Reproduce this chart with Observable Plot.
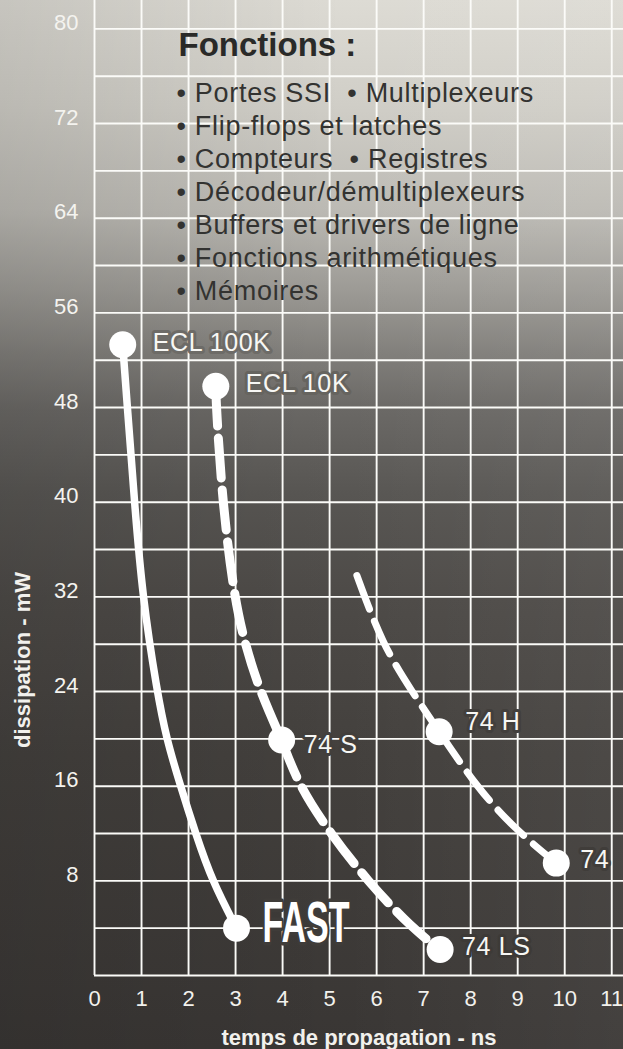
<!DOCTYPE html>
<html><head><meta charset="utf-8">
<script src="https://cdn.jsdelivr.net/npm/d3@7"></script>
<script src="https://cdn.jsdelivr.net/npm/@observablehq/plot@0.6"></script>
<style>
html,body{margin:0;padding:0;}
body{width:623px;height:1049px;overflow:hidden;
background:
 linear-gradient(to right, rgba(0,0,0,0.10), rgba(0,0,0,0) 55%, rgba(255,255,255,0.05)),
 linear-gradient(to bottom, #dddbd4 0%, #d0cec7 10%, #bcbab4 20%, #9b9994 28%, #7f7d79 34%, #6a6865 39%, #585653 47%, #4d4a47 57%, #43403d 72%, #393634 100%);}
#chart svg{display:block;}
.fn-list text{letter-spacing:0.7px;}
.pt-label text{letter-spacing:0.6px;}
</style></head><body><div id="chart"></div>
<script>
// ---- data ----
const xTicks = [0,1,2,3,4,5,6,7,8,9,10,11];
const yTicks = [8,16,24,32,40,48,56,64,72,80];
const yGrid = [0,4,8,12,16,20,24,28,32,36,40,44,48,52,56,60,64,68,72,76,80];

const pointNames = ["ECL 100K","FAST","ECL 10K","74 S","74 LS","74 H","74"];
const pointX = [0.6, 3.02, 2.58, 3.98, 7.35, 7.33, 9.82];
const pointY = [53.3, 4.0, 49.8, 19.9, 2.2, 20.6, 9.5];

// ECL 100K -> FAST (solid)
const fastX = [0.6, 0.7, 0.85, 1.02, 1.33, 1.53, 1.83, 2.15, 2.5, 3.02];
const fastY = [53.3, 48, 40, 32, 24, 20, 16, 12, 8, 4.0];
// ECL 10K -> 74 S (dashed)
const ecl10X = [2.58, 2.59, 2.72, 2.97, 3.2, 3.52, 3.98];
const ecl10Y = [49.8, 48, 40, 32, 28, 24, 19.9];
// 74 S -> 74 LS (dashed)
const lsX = [3.98, 4.35, 5.02, 5.8, 6.75, 7.35];
const lsY = [19.9, 16, 12, 8, 4, 2.2];
// start -> 74 H (dashed)
const hX = [5.58, 6.12, 6.75, 7.33];
const hY = [33.8, 28, 24, 20.6];
// 74 H -> 74 (dashed)
const stdX = [7.33, 8.15, 8.96, 9.82];
const stdY = [20.6, 15.8, 12.3, 9.5];

const functionsTitle = "Fonctions :";
const functionsList = [
  "• Portes SSI  • Multiplexeurs",
  "• Flip-flops et latches",
  "• Compteurs  • Registres",
  "• Décodeur/démultiplexeurs",
  "• Buffers et drivers de ligne",
  "• Fonctions arithmétiques",
  "• Mémoires"
];
const xLabel = "temps de propagation - ns";
const yLabel = "dissipation - mW";

// ---- tables ----
const zip = (xs, ys, seg) => xs.map((x, i) => ({x, y: ys[i], seg}));
const points = pointNames.map((name, i) => ({name, x: pointX[i], y: pointY[i]}));
const fastRows = zip(fastX, fastY, "fast");
const lsRows = [...zip(ecl10X, ecl10Y, "a"), ...zip(lsX, lsY, "b")];
const stdRows = [...zip(hX, hY, "a"), ...zip(stdX, stdY, "b")];

// label layout (offsets in px from each dot)
const labelLayout = {
  "ECL 100K": {dx: 30, dy: -2, halo: "#6d6b67"},
  "ECL 10K": {dx: 30, dy: -2, halo: "#66645f"},
  "74 S": {dx: 22, dy: 5, halo: "#423f3c"},
  "74 H": {dx: 26, dy: -10, halo: "#423f3c"},
  "74": {dx: 24, dy: -3, halo: "#403d3a"},
  "74 LS": {dx: 22, dy: -2, halo: "#3d3a37"}
};

const font = "'Liberation Sans', Arial, Helvetica, sans-serif";

const labelMarks = Object.keys(labelLayout).map(name => {
  const L = labelLayout[name];
  return Plot.text(points.filter(p => p.name === name), {
    x: "x", y: "y", text: "name", dx: L.dx, dy: L.dy,
    textAnchor: "start", lineAnchor: "middle", fontSize: 25,
    fill: "#f7f7f4", stroke: L.halo, strokeWidth: 6, className: "pt-label"
  });
});

const plot = Plot.plot({
  width: 623, height: 1049,
  marginLeft: 94, marginRight: 0, marginTop: 0, marginBottom: 74,
  x: {domain: [0, 11.25]},
  y: {domain: [0, 82.4]},
  style: {background: "transparent", fontFamily: font, overflow: "visible"},
  marks: [
    Plot.ruleX(xTicks, {stroke: "#fbfbf8", strokeWidth: 1.9}),
    Plot.ruleY(yGrid, {stroke: "#fbfbf8", strokeWidth: 1.9}),
    Plot.axisX(xTicks, {tickSize: 0, tickPadding: 15, fontSize: 22, fill: "#f2f1ed", label: null}),
    Plot.axisY(yTicks, {tickSize: 0, tickPadding: 16, dy: -6, fontSize: 22, fill: "#f4f3ef", label: null}),
    Plot.text([xLabel], {text: d => d, frameAnchor: "bottom", dy: 62, textAnchor: "middle", lineAnchor: "middle",
      fontSize: 22, fontWeight: "bold", fill: "#f2f1ed"}),
    Plot.text([yLabel], {text: d => d, frameAnchor: "left", dx: -72, dy: 172, rotate: -90,
      textAnchor: "middle", lineAnchor: "middle", fontSize: 22, fontWeight: "bold", fill: "#f2f1ed"}),
    Plot.text([functionsTitle], {text: d => d, frameAnchor: "top-left", dx: 84, dy: 45,
      textAnchor: "start", lineAnchor: "middle", fontSize: 33, fontWeight: "bold", fill: "#2a2a28"}),
    Plot.text([functionsList.join("\n")], {text: d => d, frameAnchor: "top-left", dx: 82, dy: 78,
      textAnchor: "start", lineAnchor: "top", fontSize: 27, lineHeight: 33 / 27, fill: "#333331",
      className: "fn-list"}),
    Plot.line(fastRows, {x: "x", y: "y", z: "seg", curve: "basis", stroke: "white", strokeWidth: 7.5}),
    Plot.line(lsRows, {x: "x", y: "y", z: "seg", curve: "basis", stroke: "white", strokeWidth: 9,
      strokeDasharray: "40,12"}),
    Plot.line(stdRows, {x: "x", y: "y", z: "seg", curve: "basis", stroke: "white", strokeWidth: 7,
      strokeDasharray: "36,13"}),
    Plot.dot(points, {x: "x", y: "y", r: 13.5, fill: "white"}),
    ...labelMarks,
    Plot.text(points.filter(p => p.name === "FAST"), {
      x: "x", y: "y", text: "name", dx: 26, dy: -4, textAnchor: "start", lineAnchor: "middle",
      fontSize: 57, fontWeight: "bold", fill: "white", stroke: "#3f3c39", strokeWidth: 7,
      className: "fast-label"
    })
  ]
});
document.getElementById("chart").appendChild(plot);
d3.select(plot).selectAll(".fast-label text")
  .attr("textLength", 87).attr("lengthAdjust", "spacingAndGlyphs");
</script></body></html>
